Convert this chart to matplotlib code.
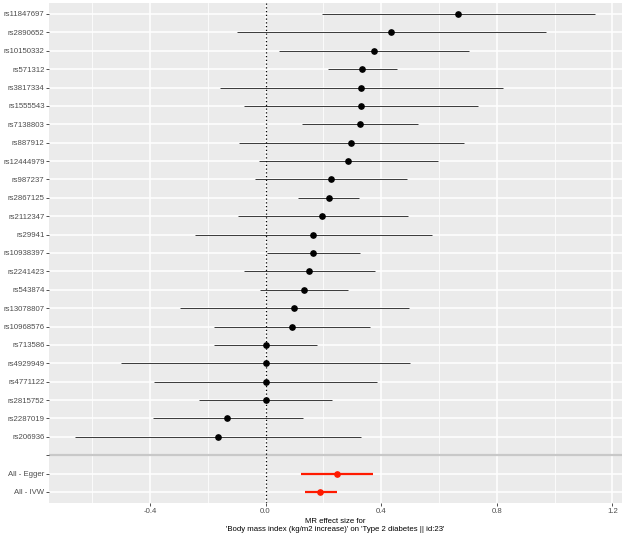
import numpy as np
import matplotlib.pyplot as plt

plt.rcParams['font.family'] = ['Liberation Sans', 'DejaVu Sans']

snps = ['rs11847697', 'rs2890652', 'rs10150332', 'rs571312', 'rs3817334',
        'rs1555543', 'rs7138803', 'rs887912', 'rs12444979', 'rs987237',
        'rs2867125', 'rs2112347', 'rs29941', 'rs10938397', 'rs2241423',
        'rs543874', 'rs13078807', 'rs10968576', 'rs713586', 'rs4929949',
        'rs4771122', 'rs2815752', 'rs2287019', 'rs206936']
b = [0.666, 0.435, 0.375, 0.334, 0.329, 0.329, 0.327, 0.296, 0.287, 0.227,
     0.218, 0.197, 0.165, 0.164, 0.152, 0.134, 0.099, 0.091, 0.0, 0.0,
     0.0, 0.0, -0.132, -0.165]
lo = [0.194, -0.098, 0.046, 0.215, -0.159, -0.075, 0.126, -0.092, -0.022, -0.035,
      0.114, -0.095, -0.244, 0.005, -0.073, -0.018, -0.295, -0.179, -0.177, -0.499,
      -0.386, -0.230, -0.391, -0.659]
up = [1.139, 0.970, 0.703, 0.455, 0.820, 0.736, 0.529, 0.685, 0.597, 0.491,
      0.323, 0.492, 0.576, 0.326, 0.380, 0.287, 0.495, 0.360, 0.178, 0.500,
      0.387, 0.231, 0.129, 0.329]

methods = ['All - Egger', 'All - IVW']
mb = [0.246, 0.190]
mlo = [0.124, 0.136]
mup = [0.371, 0.246]

labels = snps + [''] + methods
n = len(labels)
ysnp = np.arange(len(snps))
ysep = len(snps)
ymeth = np.arange(len(snps) + 1, n)

fig = plt.figure(figsize=(6.25, 5.38), dpi=100)
ax = fig.add_axes([0.079, 0.065, 0.916, 0.9295])
ax.set_facecolor('#EBEBEB')
for s in ax.spines.values():
    s.set_visible(False)

xmin, xmax = -0.748, 1.233
ax.set_xlim(xmin, xmax)
ax.set_ylim(n - 1 + 0.6, -0.6)

major = [-0.4, 0.0, 0.4, 0.8, 1.2]
minor = [-0.6, -0.2, 0.2, 0.6, 1.0]
for x in minor:
    ax.axvline(x, color='white', lw=0.55, zorder=0)
for x in major:
    ax.axvline(x, color='white', lw=1.1, zorder=0)
for y in range(n):
    ax.axhline(y, color='white', lw=1.1, zorder=0)

ax.axhline(ysep, color='#C8C8C8', lw=1.6, zorder=1)
ax.axvline(0, color='black', lw=0.9, ls=(0, (1, 2)), zorder=2)

ax.hlines(ysnp, lo, up, color='#1A1A1A', lw=0.6, zorder=3)
ax.plot(b, ysnp, 'o', color='black', ms=3.8, zorder=4)
ax.hlines(ymeth, mlo, mup, color='#FF1A00', lw=1.6, zorder=3)
ax.plot(mb, ymeth, 'o', color='#FF1A00', ms=3.8, zorder=4)

ax.set_xticks(major)
ax.set_xticklabels(['-0.4', '0.0', '0.4', '0.8', '1.2'])
ax.set_yticks(range(n))
ax.set_yticklabels(labels)
ax.tick_params(axis='both', length=2.0, width=0.6, color='#333333',
               labelcolor='#4D4D4D', labelsize=5.6, pad=1.5)

ax.set_xlabel("MR effect size for\n'Body mass index (kg/m2 increase)' on 'Type 2 diabetes || id:23'",
              fontsize=5.6, color='black', labelpad=2.5, linespacing=1.05)

plt.savefig('out.png', dpi=100)
plt.close('all')
